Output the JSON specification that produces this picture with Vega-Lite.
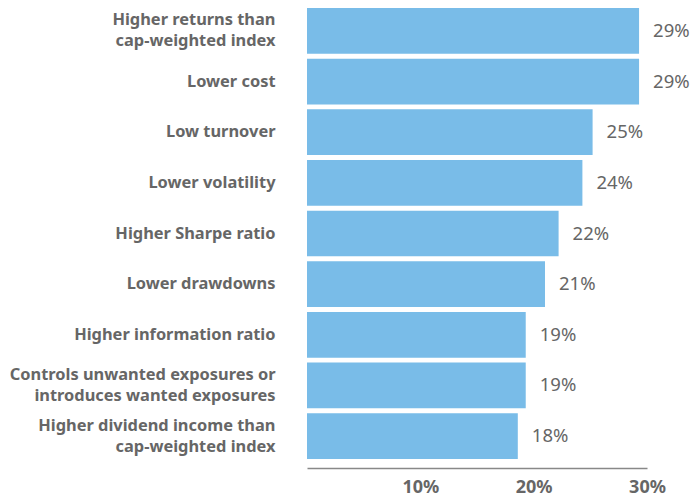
{
  "$schema": "https://vega.github.io/schema/vega-lite/v6.json",
  "autosize": {"type": "none"},
  "width": 340,
  "height": 451,
  "padding": {"left": 307, "top": 8, "right": 47, "bottom": 38},
  "background": "white",
  "config": {"view": {"stroke": null}},
  "data": {
    "values": [
      {"reason": "Higher returns than|cap-weighted index", "share": 29.3, "label": "29%"},
      {"reason": "Lower cost", "share": 29.3, "label": "29%"},
      {"reason": "Low turnover", "share": 25.2, "label": "25%"},
      {"reason": "Lower volatility", "share": 24.3, "label": "24%"},
      {"reason": "Higher Sharpe ratio", "share": 22.2, "label": "22%"},
      {"reason": "Lower drawdowns", "share": 21.0, "label": "21%"},
      {"reason": "Higher information ratio", "share": 19.3, "label": "19%"},
      {"reason": "Controls unwanted exposures or|introduces wanted exposures", "share": 19.3, "label": "19%"},
      {"reason": "Higher dividend income than|cap-weighted index", "share": 18.6, "label": "18%"}
    ]
  },
  "encoding": {
    "y": {
      "field": "reason",
      "type": "nominal",
      "sort": null,
      "scale": {"paddingInner": 0.097, "paddingOuter": 0},
      "axis": {
        "title": null,
        "domain": false,
        "ticks": false,
        "labelPadding": 32,
        "labelExpr": "split(datum.label, '|')",
        "labelOffset": {"condition": {"test": "indexof(datum.label, '|') >= 0", "value": -10.5}, "value": 0},
        "labelFont": "Noto Sans",
        "labelFontWeight": "bold",
        "labelFontSize": 16.4,
        "labelColor": "#666666",
        "labelLineHeight": 21,
        "labelLimit": 400
      }
    },
    "x": {
      "field": "share",
      "type": "quantitative",
      "scale": {"domain": [0, 30], "nice": false},
      "axis": {
        "title": null,
        "values": [10, 20, 30],
        "labelExpr": "datum.value + '%'",
        "grid": false,
        "ticks": false,
        "offset": 9,
        "domainColor": "#888888",
        "domainWidth": 1.5,
        "labelPadding": 10,
        "labelFont": "Noto Sans",
        "labelFontWeight": "bold",
        "labelFontSize": 18,
        "labelColor": "#666666",
        "labelFlush": false
      }
    }
  },
  "layer": [
    {"mark": {"type": "bar", "color": "#79BCE8"}},
    {
      "mark": {"type": "text", "align": "left", "baseline": "middle", "dx": 14, "font": "Noto Sans", "fontSize": 18.5, "color": "#666666"},
      "encoding": {"text": {"field": "label"}}
    }
  ]
}
